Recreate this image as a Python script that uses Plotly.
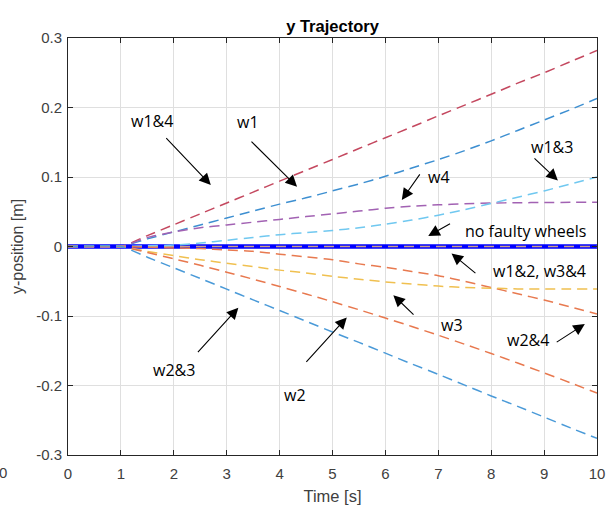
import plotly.graph_objects as go

# ---------------- data ----------------
time_s = [0, 1, 1.5, 2, 2.5, 3, 3.5, 4, 4.5, 5, 5.5, 6, 6.5, 7, 7.5, 8, 8.5, 9, 9.5, 10]

y_no_fault = [0.0] * 20
y_w12_w34 = [0.0] * 20
y_w14 = [0, 0, 0.0157, 0.0313, 0.047, 0.0626, 0.0783, 0.094, 0.1096, 0.1252, 0.141,
         0.1565, 0.172, 0.188, 0.2035, 0.219, 0.235, 0.250, 0.266, 0.282]
y_w1 = [0, 0, 0.011, 0.021, 0.031, 0.041, 0.051, 0.061, 0.070, 0.080, 0.090,
        0.101, 0.113, 0.125, 0.138, 0.152, 0.167, 0.182, 0.197, 0.213]
y_w4 = [0, 0, 0.013, 0.021, 0.027, 0.031, 0.035, 0.039, 0.043, 0.047, 0.051,
        0.055, 0.058, 0.060, 0.0615, 0.0625, 0.063, 0.0633, 0.0635, 0.0636]
y_w13 = [0, 0, 0.001, 0.002, 0.005, 0.009, 0.013, 0.017, 0.020, 0.023, 0.027,
         0.032, 0.038, 0.045, 0.053, 0.062, 0.071, 0.080, 0.090, 0.100]
y_w24 = [0, 0, -0.001, -0.002, -0.003, -0.005, -0.007, -0.011, -0.015, -0.019, -0.025,
         -0.030, -0.036, -0.042, -0.050, -0.059, -0.068, -0.077, -0.087, -0.097]
y_w3 = [0, 0, -0.007, -0.013, -0.019, -0.024, -0.029, -0.034, -0.038, -0.043, -0.047,
        -0.051, -0.054, -0.057, -0.059, -0.060, -0.061, -0.061, -0.061, -0.061]
y_w2 = [0, 0, -0.0087, -0.0177, -0.0271, -0.0369, -0.047, -0.0575, -0.0683, -0.0795, -0.091,
        -0.1029, -0.1151, -0.1277, -0.1407, -0.154, -0.1677, -0.1818, -0.1962, -0.211]
y_w23 = [0, 0, -0.0154, -0.0307, -0.046, -0.0614, -0.0768, -0.092, -0.1075, -0.123, -0.138,
         -0.1535, -0.169, -0.184, -0.1995, -0.215, -0.230, -0.2455, -0.261, -0.276]

x_ticks = [0, 1, 2, 3, 4, 5, 6, 7, 8, 9, 10]
x_tick_labels = ["0", "1", "2", "3", "4", "5", "6", "7", "8", "9", "10"]
y_ticks = [-0.3, -0.2, -0.1, 0, 0.1, 0.2, 0.3]
y_tick_labels = ["-0.3", "-0.2", "-0.1", "0", "0.1", "0.2", "0.3"]

# annotation labels: (text, x, y)
label_texts = ["w1&4", "w1", "w4", "w1&3", "no faulty wheels", "w1&2, w3&4",
               "w3", "w2&4", "w2&3", "w2"]
label_x = [1.59, 3.40, 7.01, 9.15, 8.64, 8.92, 7.26, 8.70, 2.00, 4.29]
label_y = [0.181, 0.179, 0.100, 0.143, 0.022, -0.035, -0.113, -0.1345, -0.178, -0.214]
# arrows: tail (x, y) -> head (x, y)
arrow_tail_x = [1.83, 3.44, 6.67, 8.79, 7.25, 7.73, 6.56, 9.21, 2.43, 4.48]
arrow_tail_y = [0.158, 0.153, 0.106, 0.129, 0.034, -0.040, -0.100, -0.139, -0.154, -0.168]
arrow_head_x = [2.70, 4.33, 6.31, 9.26, 6.81, 7.25, 6.15, 9.77, 3.22, 5.27]
arrow_head_y = [0.0885, 0.086, 0.067, 0.095, 0.015, -0.010, -0.070, -0.1115, -0.088, -0.102]

# ---------------- figure ----------------
DASH = "10px,6px"
fig = go.Figure()

fig.add_trace(go.Scatter(x=time_s, y=y_no_fault, mode="lines",
                         line=dict(color="#0000FF", width=4.5), name="no faulty wheels"))
fig.add_trace(go.Scatter(x=time_s, y=y_w12_w34, mode="lines",
                         line=dict(color="#C9A08A", width=1.5, dash=DASH), name="w1&2, w3&4"))

series = [
    ("w1&4", y_w14, "#C4485F"),
    ("w1", y_w1, "#3D8FD1"),
    ("w4", y_w4, "#A262B3"),
    ("w1&3", y_w13, "#70C8F0"),
    ("w2&4", y_w24, "#E87A50"),
    ("w3", y_w3, "#F0C050"),
    ("w2", y_w2, "#E8784E"),
    ("w2&3", y_w23, "#4A9AD8"),
]
for name, ys, col in series:
    fig.add_trace(go.Scatter(x=time_s, y=ys, mode="lines", name=name,
                             line=dict(color=col, width=1.5, dash=DASH, shape="spline", smoothing=0.6)))

annotations = []
for txt, lx, ly in zip(label_texts, label_x, label_y):
    annotations.append(dict(x=lx, y=ly, xref="x", yref="y", text=txt, showarrow=False,
                            font=dict(family="Open Sans", size=16, color="#000000"),
                            xanchor="center", yanchor="middle"))
for tx, ty, hx, hy in zip(arrow_tail_x, arrow_tail_y, arrow_head_x, arrow_head_y):
    annotations.append(dict(x=hx, y=hy, ax=tx, ay=ty, xref="x", yref="y", axref="x", ayref="y",
                            text="", showarrow=True, arrowhead=2, arrowsize=2.1, arrowwidth=1.1,
                            arrowcolor="#000000", standoff=0, startstandoff=0))
# stray tick label at far left
annotations.append(dict(x=-0.1229, y=-0.043, xref="paper", yref="paper", text="0", showarrow=False,
                        font=dict(family="Liberation Sans", size=15, color="#404040"),
                        xanchor="center", yanchor="middle"))

axis_common = dict(showline=True, linecolor="#262626", linewidth=1, mirror="ticks",
                   ticks="inside", ticklen=5, tickcolor="#262626", tickwidth=1,
                   showgrid=True, gridcolor="#DFDFDF", gridwidth=1, zeroline=False,
                   automargin=False,
                   tickfont=dict(family="Liberation Sans", size=15, color="#404040"))

fig.update_layout(
    width=613, height=506,
    margin=dict(l=68, r=16, t=38, b=51),
    paper_bgcolor="white", plot_bgcolor="white",
    showlegend=False,
    title=dict(text="<b>y Trajectory</b>", x=0.5, xref="paper", xanchor="center",
               y=1 - 26 / 506, yref="container", yanchor="middle",
               font=dict(family="Liberation Sans", size=16.5, color="#000000")),
    xaxis=dict(range=[0, 10], tickvals=x_ticks, ticktext=x_tick_labels,
               title=dict(text="Time [s]", standoff=9,
                          font=dict(family="Liberation Sans", size=16.5, color="#404040")),
               ticklabelstandoff=5, **axis_common),
    yaxis=dict(range=[-0.3, 0.3], tickvals=y_ticks, ticktext=y_tick_labels,
               title=dict(text="y-position [m]", standoff=8,
                          font=dict(family="Liberation Sans", size=16, color="#404040")),
               ticklabelstandoff=2, **axis_common),
    annotations=annotations,
)

fig.write_html("out.html")
